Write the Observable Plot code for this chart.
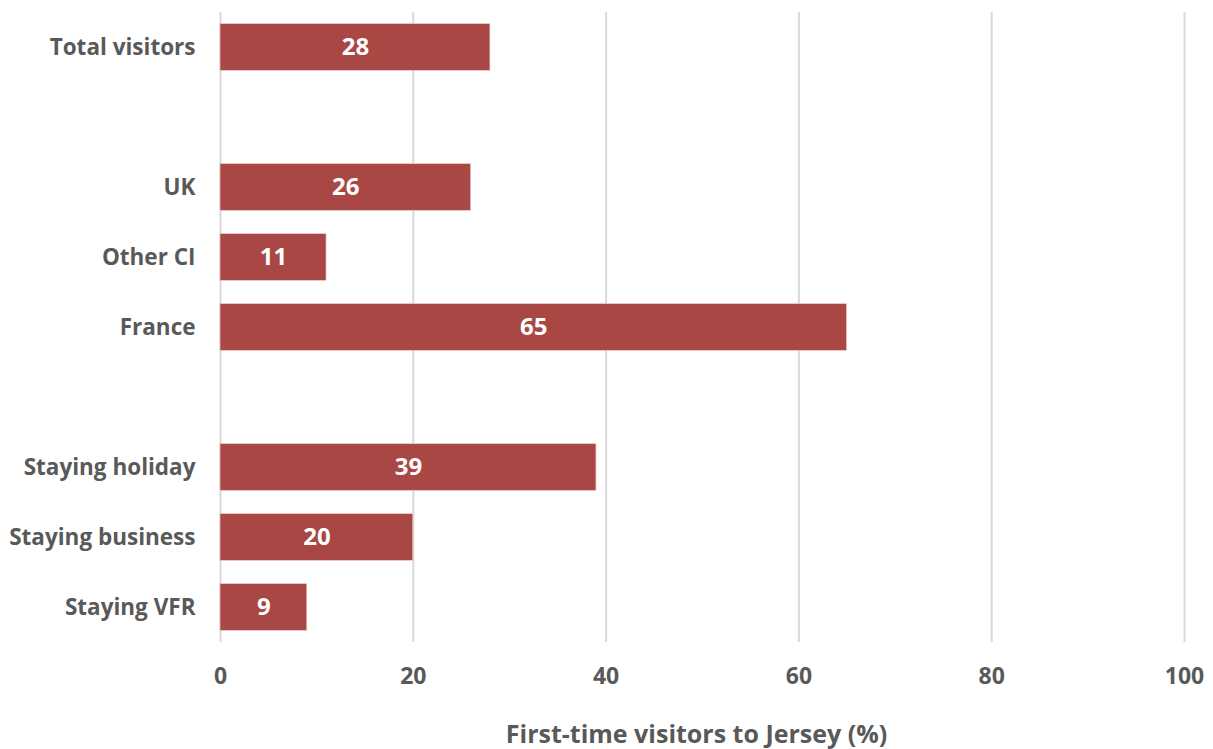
<!DOCTYPE html>
<html>
<head>
<meta charset="utf-8">
<script src="https://cdn.jsdelivr.net/npm/d3@7"></script>
<script src="https://cdn.jsdelivr.net/npm/@observablehq/plot@0.6"></script>
<style>
  html, body { margin: 0; padding: 0; background: #fff; }
  #chart svg { display: block; }
</style>
</head>
<body>
<div id="chart"></div>
<script>
const categories = ["Total visitors", "UK", "Other CI", "France", "Staying holiday", "Staying business", "Staying VFR"];
const values = [28, 26, 11, 65, 39, 20, 9];
const rowOrder = ["Total visitors", " ", "UK", "Other CI", "France", "  ", "Staying holiday", "Staying business", "Staying VFR"];
const xTicks = [0, 20, 40, 60, 80, 100];
const xTitle = "First-time visitors to Jersey (%)";

const data = categories.map((c, i) => ({category: c, value: values[i]}));
const gray = "#595959";

const chart = Plot.plot({
  width: 1213,
  height: 749,
  marginTop: 12,
  marginBottom: 107,
  marginLeft: 220,
  marginRight: 29,
  style: {fontFamily: "'Open Sans', sans-serif", fontWeight: "bold", color: gray, background: "#fff"},
  x: {domain: [0, 100]},
  y: {domain: rowOrder, padding: 0, round: false},
  marks: [
    Plot.gridX(xTicks, {stroke: "#d9d9d9", strokeOpacity: 1, strokeWidth: 2}),
    Plot.barX(data, {y: "category", x: "value", fill: "#a94744", stroke: "#e9c9c8", strokeWidth: 0.7, insetTop: 11.67, insetBottom: 11.67}),
    Plot.text(data, {y: "category", x: d => d.value / 2, text: d => String(d.value), fill: "#fff", fontSize: 24, fontWeight: "bold"}),
    Plot.axisY({tickSize: 0, tickPadding: 25, fontSize: 22.5, fontWeight: "bold", label: null}),
    Plot.axisX(xTicks, {tickSize: 0, tickPadding: 25, fontSize: 23, fontWeight: "bold", label: xTitle, labelAnchor: "center", labelArrow: "none", labelOffset: 100}),
  ]
});
chart.querySelectorAll("g[aria-label='x-axis label']").forEach(el => {
  el.setAttribute("font-size", 25);
  el.style.fontSize = "25px";
  el.querySelectorAll("text").forEach(t => t.setAttribute("dx", -6));
});
document.getElementById("chart").appendChild(chart);
</script>
</body>
</html>
